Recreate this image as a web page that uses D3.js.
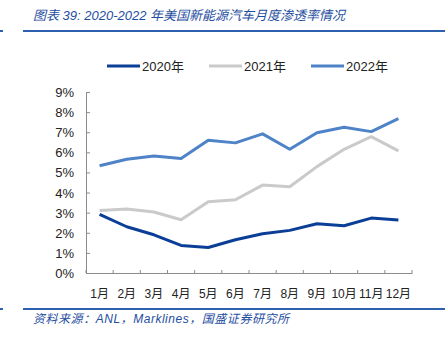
<!DOCTYPE html>
<html>
<head>
<meta charset="utf-8">
<script src="https://cdn.jsdelivr.net/npm/d3@7.9.0/dist/d3.min.js"></script>
<style>
  body { margin: 0; background: #fff; }
  svg text { font-family: "Liberation Sans", "Noto Sans CJK SC", sans-serif; }
</style>
</head>
<body>
<svg id="chart" width="445" height="338"></svg>
<script>
const months = ['1月', '2月', '3月', '4月', '5月', '6月', '7月', '8月', '9月', '10月', '11月', '12月'];
const years = ['2020年', '2021年', '2022年'];
const colors = ['#0b3f97', '#cacaca', '#4f83c8'];

const v2020 = [2.91, 2.30, 1.90, 1.37, 1.27, 1.65, 1.95, 2.12, 2.45, 2.35, 2.73, 2.63];
const v2021 = [3.11, 3.18, 3.03, 2.65, 3.54, 3.64, 4.37, 4.29, 5.29, 6.15, 6.78, 6.07];
const v2022 = [5.33, 5.66, 5.82, 5.69, 6.60, 6.47, 6.92, 6.15, 6.97, 7.25, 7.03, 7.68];
const series = [v2020, v2021, v2022];

const yTicks = [0, 1, 2, 3, 4, 5, 6, 7, 8, 9];

const svg = d3.select('#chart');
const blue = '#1f4e9f';

// title + rules
svg.append('text')
  .attr('x', 33).attr('y', 20)
  .attr('font-size', 13).attr('font-style', 'italic')
  .attr('fill', blue)
  .attr('textLength', 312)
  .text('图表 39: 2020-2022 年美国新能源汽车月度渗透率情况');
svg.append('rect').attr('x', 0).attr('y', 30).attr('width', 3).attr('height', 2).attr('fill', '#2e60b0');
svg.append('rect').attr('x', 23).attr('y', 30).attr('width', 422).attr('height', 2).attr('fill', '#2e60b0');
svg.append('rect').attr('x', 0).attr('y', 308).attr('width', 3).attr('height', 2).attr('fill', '#2e60b0');
svg.append('rect').attr('x', 23).attr('y', 308).attr('width', 422).attr('height', 2).attr('fill', '#2e60b0');
svg.append('text')
  .attr('x', 33).attr('y', 323)
  .attr('font-size', 12).attr('font-style', 'italic')
  .attr('fill', blue)
  .attr('textLength', 256)
  .text('资料来源：ANL，Marklines，国盛证券研究所');

// scales
const x = d3.scaleBand().domain(months).range([86, 412]);
const y = d3.scaleLinear().domain([0, 9]).range([273, 92]);

const axisColor = '#8c8c8c';

// y axis
const yAxis = svg.append('g').attr('transform', 'translate(86,0)')
  .call(d3.axisRight(y).tickValues(yTicks).tickSize(4).tickFormat(''));
yAxis.select('.domain').attr('stroke', axisColor);
yAxis.selectAll('.tick line').attr('stroke', axisColor);
svg.append('g').selectAll('text').data(yTicks).join('text')
  .attr('x', 74).attr('y', d => y(d) + 5)
  .attr('text-anchor', 'end').attr('font-size', 13).attr('fill', '#222')
  .text(d => d + '%');

// x axis
const xAxis = svg.append('g').attr('transform', 'translate(0,273)')
  .call(d3.axisBottom(x).tickSize(0).tickFormat(''));
xAxis.select('.domain').attr('stroke', axisColor);
const xEdges = months.map(m => x(m)).concat([x.range()[1]]);
svg.append('g').selectAll('line').data(xEdges).join('line')
  .attr('x1', d => d).attr('x2', d => d)
  .attr('y1', 273).attr('y2', 270)
  .attr('stroke', axisColor);
svg.append('g').selectAll('text').data(months).join('text')
  .attr('x', d => x(d) + x.bandwidth() / 2).attr('y', 298)
  .attr('text-anchor', 'middle').attr('font-size', 12).attr('fill', '#222')
  .text(d => d);

// lines
const line = d3.line()
  .x((d, i) => x(months[i]) + x.bandwidth() / 2)
  .y(d => y(d));
series.forEach((s, k) => {
  svg.append('path').datum(s)
    .attr('d', line)
    .attr('fill', 'none')
    .attr('stroke', colors[k])
    .attr('stroke-width', 3)
    .attr('stroke-linejoin', 'round');
});

// legend
const legendX = [107, 209, 311];
years.forEach((name, k) => {
  svg.append('line')
    .attr('x1', legendX[k]).attr('x2', legendX[k] + 33)
    .attr('y1', 66).attr('y2', 66)
    .attr('stroke', colors[k]).attr('stroke-width', 3);
  svg.append('text')
    .attr('x', legendX[k] + 35).attr('y', 71)
    .attr('font-size', 13).attr('fill', '#222')
    .text(name);
});
</script>
</body>
</html>
